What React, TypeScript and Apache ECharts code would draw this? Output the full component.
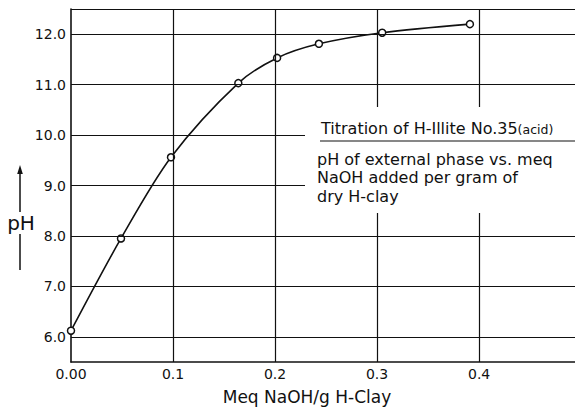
import React, { useEffect, useRef } from "react";
import * as echarts from "echarts";

// Titration of H-Illite No.35 (acid): pH of the external phase vs. meq NaOH per gram of dry H-clay
const meqNaOH = [0.0, 0.049, 0.098, 0.164, 0.202, 0.243, 0.305, 0.391];
const pHValues = [6.12, 7.95, 9.56, 11.03, 11.53, 11.81, 12.03, 12.2];

const xTicks = [0, 0.1, 0.2, 0.3, 0.4];
const yTicks = [6, 7, 8, 9, 10, 11, 12];
const xMin = 0;
const xMax = 0.494;
const yMin = 5.5;
const yMax = 12.5;

const FONT = "DejaVu Sans";
const INK = "#111";

export default function App() {
  const ref = useRef<HTMLDivElement>(null);

  useEffect(() => {
    if (!ref.current) return;
    const chart = echarts.init(ref.current, null, { renderer: "svg" });

    const gridLines = [
      ...yTicks.map((v) => ({ yAxis: v })),
      { yAxis: yMax },
      ...xTicks.filter((v) => v > 0).map((v) => ({ xAxis: v })),
    ];

    chart.setOption({
      animation: false,
      backgroundColor: "#fff",
      grid: { left: 71, right: 0, top: 9, bottom: 46, containLabel: false },
      xAxis: {
        type: "value",
        min: xMin,
        max: xMax,
        interval: 0.1,
        axisLine: { show: true, lineStyle: { color: INK, width: 1.6 } },
        axisTick: { show: false },
        splitLine: { show: false },
        axisLabel: {
          margin: 5,
          color: INK,
          fontFamily: FONT,
          fontSize: 14,
          showMaxLabel: false,
          formatter: (v: number) => {
            const hit = xTicks.find((t) => Math.abs(t - v) < 1e-6);
            if (hit === undefined) return "";
            return hit === 0 ? "0.00" : hit.toFixed(1);
          },
        },
      },
      yAxis: {
        type: "value",
        min: yMin,
        max: yMax,
        interval: 0.5,
        axisLine: { show: true, lineStyle: { color: INK, width: 1.6 } },
        axisTick: { show: false },
        splitLine: { show: false },
        axisLabel: {
          margin: 5,
          color: INK,
          fontFamily: FONT,
          fontSize: 14,
          formatter: (v: number) => {
            const hit = yTicks.find((t) => Math.abs(t - v) < 1e-6);
            return hit === undefined ? "" : hit.toFixed(1);
          },
        },
      },
      series: [
        {
          // grid lines and top border, placed through the axes
          type: "line",
          z: 1,
          data: [],
          silent: true,
          markLine: {
            silent: true,
            symbol: "none",
            label: { show: false },
            lineStyle: { color: INK, width: 1.2, type: "solid" },
            data: gridLines,
          },
        },
        {
          type: "line",
          z: 3,
          data: meqNaOH.map((x, i) => [x, pHValues[i]]),
          smooth: 0.3,
          symbol: "circle",
          symbolSize: 7,
          itemStyle: { color: "#fff", borderColor: INK, borderWidth: 1.5 },
          lineStyle: { color: INK, width: 1.6 },
        },
      ],
      graphic: [
        {
          type: "rect",
          z: 100,
          shape: { x: 305, y: 107, width: 270, height: 106 },
          style: { fill: "#fff" },
        },
        {
          type: "text",
          z: 101,
          x: 321,
          y: 128,
          style: {
            text: "{a|Titration of H-Illite No.35}{b|(acid)}",
            fill: INK,
            verticalAlign: "middle",
            rich: {
              a: { fontFamily: FONT, fontSize: 16, fill: INK, verticalAlign: "bottom" },
              b: { fontFamily: FONT, fontSize: 12.5, fill: INK, verticalAlign: "bottom" },
            },
          },
        },
        {
          type: "line",
          z: 101,
          shape: { x1: 320, y1: 141, x2: 575, y2: 141 },
          style: { stroke: INK, lineWidth: 1.2 },
        },
        {
          type: "text",
          z: 101,
          x: 317,
          y: 159,
          style: { text: "pH of external phase vs. meq", fontFamily: FONT, fontSize: 16, fill: INK, verticalAlign: "middle" },
        },
        {
          type: "text",
          z: 101,
          x: 317,
          y: 177.5,
          style: { text: "NaOH added per gram of", fontFamily: FONT, fontSize: 16, fill: INK, verticalAlign: "middle" },
        },
        {
          type: "text",
          z: 101,
          x: 317,
          y: 196,
          style: { text: "dry H-clay", fontFamily: FONT, fontSize: 16, fill: INK, verticalAlign: "middle" },
        },
        // y-axis title with its arrow
        {
          type: "line",
          shape: { x1: 20, y1: 212, x2: 20, y2: 172 },
          style: { stroke: INK, lineWidth: 1.5 },
        },
        {
          type: "polygon",
          shape: { points: [[20, 165], [17.2, 174], [22.8, 174]] },
          style: { fill: INK },
        },
        {
          type: "text",
          x: 21,
          y: 223,
          style: { text: "pH", fontFamily: FONT, fontSize: 20, fill: INK, align: "center", verticalAlign: "middle" },
        },
        {
          type: "line",
          shape: { x1: 20, y1: 234, x2: 20, y2: 270 },
          style: { stroke: INK, lineWidth: 1.5 },
        },
        // x-axis title
        {
          type: "text",
          x: 307,
          y: 397,
          style: { text: "Meq NaOH/g H-Clay", fontFamily: FONT, fontSize: 17, fill: INK, align: "center", verticalAlign: "middle" },
        },
      ],
    });

    return () => chart.dispose();
  }, []);

  return (
    <div
      ref={ref}
      style={{ position: "fixed", left: 0, top: 0, width: 575, height: 408 }}
    />
  );
}
